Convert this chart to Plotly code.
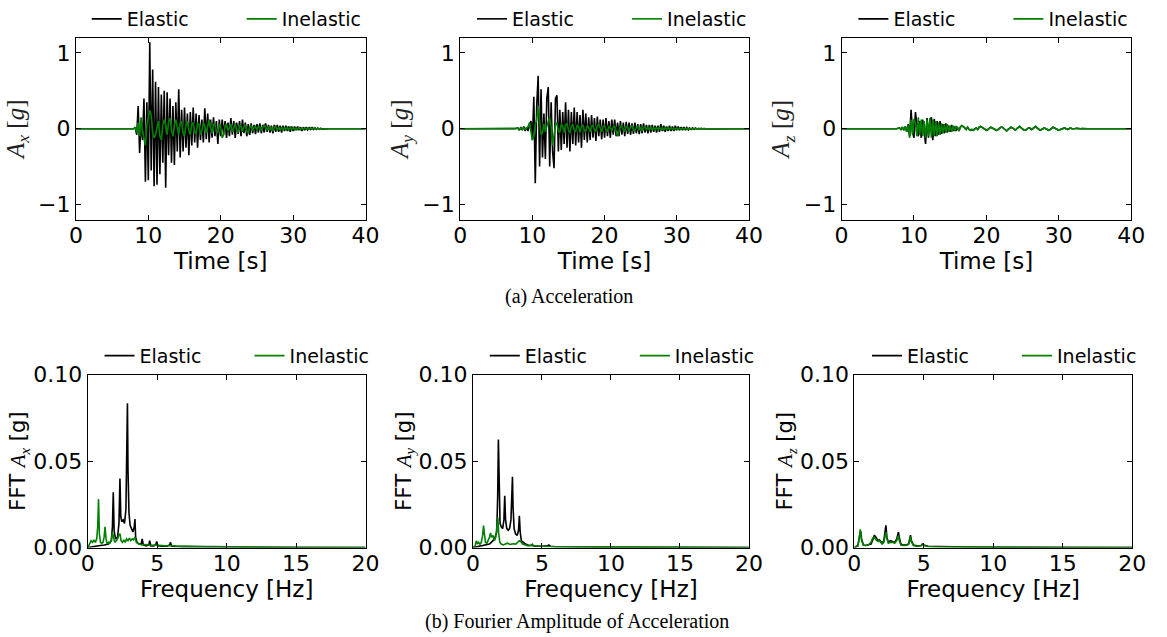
import plotly.graph_objects as go

# ---------------- time histories (time in s, acceleration in g) ----------------
T_S = [0.0, 7.6,
       8.0, 8.2, 8.4, 8.6, 8.8, 9.0, 9.2, 9.4, 9.6, 9.8,
       10.0, 10.2, 10.4, 10.6, 10.8, 11.0, 11.2, 11.4, 11.6, 11.8,
       12.0, 12.2, 12.4, 12.6, 12.8, 13.0, 13.2, 13.4, 13.6, 13.8,
       14.0, 14.2, 14.4, 14.6, 14.8, 15.0, 15.2, 15.4, 15.6, 15.8,
       16.0, 16.2, 16.4, 16.6, 16.8, 17.0, 17.2, 17.4, 17.6, 17.8,
       18.0, 18.2, 18.4, 18.6, 18.8, 19.0, 19.2, 19.4, 19.6, 19.8,
       20.0, 20.2, 20.4, 20.6, 20.8, 21.0, 21.2, 21.4, 21.6, 21.8,
       22.0, 22.2, 22.4, 22.6, 22.8, 23.0, 23.2, 23.4, 23.6, 23.8,
       24.0, 24.2, 24.4, 24.6, 24.8, 25.0, 25.2, 25.4, 25.6, 25.8,
       26.0, 26.2, 26.4, 26.6, 26.8, 27.0, 27.2, 27.4, 27.6, 27.8,
       28.0, 28.2, 28.4, 28.6, 28.8, 29.0, 29.2, 29.4, 29.6, 29.8,
       30.0, 30.2, 30.4, 30.6, 30.8, 31.0, 31.2, 31.4, 31.6, 31.8,
       32.0, 32.2, 32.4, 32.6, 32.8, 33.0, 33.2, 33.4, 33.6, 33.8,
       34.0, 35.0, 40.0]

AX_ELASTIC = [0.0, 0.0,
    0.0, 0.02, -0.08, 0.30, -0.32, 0.10, -0.15, 0.40, -0.70, 0.35,
    -0.68, 1.14, -0.55, 0.78, -0.76, 0.62, -0.74, 0.55, -0.60, 0.45,
    -0.45, 0.50, -0.78, 0.48, -0.35, 0.40, -0.45, 0.30, -0.48, 0.35,
    -0.30, 0.52, -0.38, 0.25, -0.30, 0.28, -0.25, 0.20, -0.35, 0.22,
    -0.22, 0.28, -0.18, 0.20, -0.25, 0.18, -0.15, 0.12, -0.18, 0.27,
    -0.14, 0.20, -0.18, 0.12, -0.12, 0.15, -0.10, 0.10, -0.20, 0.12,
    -0.10, 0.12, -0.08, 0.10, -0.12, 0.08, -0.10, 0.14, -0.08, 0.10,
    -0.12, 0.08, -0.07, 0.10, -0.10, 0.12, -0.06, 0.08, -0.10, 0.06,
    -0.08, 0.07, -0.06, 0.05, -0.07, 0.06, -0.05, 0.07, -0.06, 0.05,
    -0.05, 0.07, -0.04, 0.05, -0.05, 0.04, -0.06, 0.05, -0.04, 0.05,
    -0.04, 0.04, -0.05, 0.04, -0.03, 0.04, -0.03, 0.03, -0.04, 0.03,
    -0.03, 0.03, -0.02, 0.03, -0.02, 0.02, -0.03, 0.02, -0.02, 0.02,
    -0.015, 0.015, -0.01, 0.015, -0.01, 0.01, -0.01, 0.008, -0.008, 0.005,
    -0.005, 0.0, 0.0]

AX_INELASTIC = [0.0, 0.0,
    0.0, 0.02, -0.05, 0.08, -0.10, 0.15, -0.05, -0.12, -0.22, 0.05,
    0.15, 0.24, 0.18, -0.05, -0.12, -0.08, 0.02, 0.10, -0.10, -0.15,
    0.05, 0.12, 0.05, -0.08, 0.10, 0.14, -0.02, -0.10, 0.05, 0.12,
    0.02, -0.08, 0.08, 0.10, -0.06, -0.10, 0.05, 0.10, -0.02, -0.08,
    0.06, 0.08, -0.05, -0.06, 0.07, 0.06, -0.08, -0.02, 0.08, 0.04,
    -0.06, 0.03, 0.12, 0.02, -0.06, 0.05, 0.07, -0.04, -0.05, 0.06,
    0.02, -0.12, -0.08, 0.04, 0.06, -0.03, 0.02, 0.06, -0.04, 0.02,
    0.07, -0.02, -0.05, 0.04, 0.03, -0.04, 0.03, 0.05, -0.03, -0.06,
    0.02, 0.04, -0.03, 0.02, 0.03, -0.02, 0.03, 0.02, -0.03, 0.02,
    0.05, 0.02, -0.02, 0.03, -0.02, 0.02, -0.03, 0.02, 0.03, -0.02,
    0.02, -0.02, 0.02, -0.02, 0.02, -0.02, 0.015, -0.015, 0.02, -0.01,
    0.01, -0.015, 0.01, -0.01, 0.015, -0.01, 0.01, -0.01, 0.01, -0.005,
    0.008, -0.005, 0.01, -0.005, 0.005, 0.012, -0.005, 0.005, -0.004, 0.004,
    -0.003, 0.0, 0.0]

AY_ELASTIC = [0.0, 0.0,
    0.01, -0.02, 0.02, -0.02, 0.03, -0.03, 0.02, -0.03, 0.05, 0.10,
    -0.15, 0.42, -0.72, 0.30, 0.70, -0.50, 0.52, -0.38, 0.20, -0.40,
    0.40, 0.55, -0.50, 0.35, -0.30, -0.52, 0.40, 0.44, -0.30, 0.25,
    -0.28, 0.22, -0.20, 0.35, -0.25, 0.25, -0.30, 0.22, -0.20, 0.28,
    -0.22, 0.22, -0.18, 0.18, -0.25, 0.25, -0.15, 0.20, -0.18, 0.15,
    -0.15, 0.18, -0.12, 0.14, -0.16, 0.16, -0.10, 0.12, -0.14, 0.12,
    -0.12, 0.14, -0.10, 0.10, -0.12, 0.12, -0.08, 0.12, -0.10, 0.08,
    -0.10, 0.10, -0.08, 0.08, -0.10, 0.09, -0.07, 0.08, -0.08, 0.07,
    -0.07, 0.08, -0.06, 0.06, -0.07, 0.06, -0.06, 0.07, -0.05, 0.05,
    -0.06, 0.05, -0.05, 0.05, -0.04, 0.04, -0.05, 0.04, -0.04, 0.06,
    -0.03, 0.04, -0.04, 0.03, -0.03, 0.04, -0.03, 0.03, -0.03, 0.04,
    -0.02, 0.03, -0.02, 0.02, -0.02, 0.02, -0.02, 0.015, -0.015, 0.01,
    -0.01, 0.01, -0.008, 0.008, -0.006, 0.005, -0.005, 0.004, -0.003, 0.003,
    -0.002, 0.0, 0.0]

AY_INELASTIC = [0.0, 0.0,
    0.005, -0.01, 0.01, -0.01, 0.01, -0.01, 0.01, 0.03, 0.08, -0.05,
    -0.15, -0.10, 0.05, 0.12, 0.30, 0.10, -0.08, -0.05, 0.06, -0.04,
    0.04, 0.10, 0.15, 0.02, -0.22, -0.10, 0.05, 0.08, -0.03, -0.05,
    0.06, 0.03, -0.05, 0.05, 0.07, -0.02, -0.06, 0.03, 0.06, -0.02,
    -0.04, 0.05, 0.02, -0.05, 0.03, 0.05, -0.03, -0.03, 0.04, 0.02,
    -0.04, 0.03, 0.05, -0.02, -0.03, 0.04, 0.06, 0.01, -0.04, 0.03,
    0.04, -0.02, -0.03, 0.03, 0.02, -0.03, 0.02, 0.04, -0.02, -0.10,
    -0.04, 0.03, 0.04, -0.02, -0.03, 0.03, 0.02, -0.03, 0.03, 0.04,
    -0.02, -0.03, 0.02, 0.03, -0.02, 0.02, -0.03, 0.02, 0.03, -0.02,
    0.02, -0.02, 0.03, -0.02, 0.02, -0.02, 0.02, -0.015, 0.02, -0.02,
    0.015, -0.015, 0.015, -0.01, 0.015, -0.01, 0.01, -0.01, 0.01, -0.01,
    0.01, -0.008, 0.008, -0.006, 0.006, -0.005, 0.005, -0.004, 0.004, -0.003,
    0.003, -0.003, 0.002, -0.002, 0.002, -0.002, 0.001, -0.001, 0.001, -0.001,
    0.0, 0.0, 0.0]

AZ_ELASTIC = [0.0, 0.0,
    0.01, -0.01, 0.02, -0.02, 0.03, -0.04, 0.06, -0.10, 0.25, -0.05,
    -0.12, 0.22, 0.05, -0.10, 0.10, -0.12, 0.12, -0.08, -0.20, 0.14,
    -0.12, 0.12, 0.15, -0.15, 0.13, -0.10, 0.10, -0.08, 0.10, -0.07,
    0.06, -0.06, 0.07, -0.05, 0.04, -0.04, 0.05, -0.03, 0.03, -0.03,
    0.02, -0.03, 0.02, 0.04, 0.03, 0.01, -0.01, 0.02, -0.01, -0.02,
    -0.01, -0.02, 0.0, 0.01, -0.01, 0.02, 0.03, 0.02, 0.0, -0.01,
    -0.02, -0.01, 0.01, 0.02, 0.01, 0.0, -0.01, -0.02, -0.01, 0.01,
    0.02, 0.02, 0.0, -0.02, -0.03, -0.01, 0.01, 0.02, 0.01, -0.01,
    -0.02, 0.0, 0.02, 0.03, 0.01, -0.01, -0.02, -0.02, 0.0, 0.01,
    0.01, -0.01, 0.0, 0.02, 0.03, 0.01, -0.01, -0.02, -0.01, 0.0,
    0.01, 0.0, -0.01, -0.02, -0.01, 0.01, 0.02, 0.01, 0.0, -0.01,
    -0.02, -0.01, 0.0, 0.01, 0.01, 0.0, -0.01, 0.0, 0.01, 0.0,
    -0.005, 0.0, 0.005, 0.0, -0.005, 0.0, 0.003, 0.0, -0.003, 0.0,
    0.0, 0.0, 0.0]

AZ_INELASTIC = [0.0, 0.0,
    0.01, -0.01, 0.02, -0.02, 0.03, -0.04, 0.05, -0.12, 0.12, -0.08,
    0.13, 0.08, -0.10, 0.15, -0.08, 0.12, -0.10, 0.10, -0.12, 0.12,
    -0.10, 0.14, -0.12, 0.12, -0.10, 0.10, -0.10, 0.08, -0.08, 0.07,
    -0.06, 0.06, -0.05, 0.06, -0.04, 0.04, -0.04, 0.04, -0.03, 0.03,
    0.02, -0.03, 0.02, 0.04, 0.03, 0.01, -0.01, 0.02, -0.01, -0.02,
    -0.01, -0.02, 0.0, 0.01, -0.01, 0.02, 0.03, 0.02, 0.0, -0.01,
    -0.02, -0.01, 0.01, 0.02, 0.01, 0.0, -0.01, -0.02, -0.01, 0.01,
    0.02, 0.02, 0.0, -0.02, -0.03, -0.01, 0.01, 0.02, 0.01, -0.01,
    -0.02, 0.0, 0.02, 0.03, 0.01, -0.01, -0.02, -0.02, 0.0, 0.01,
    0.01, -0.01, 0.0, 0.02, 0.03, 0.01, -0.01, -0.02, -0.01, 0.0,
    0.01, 0.0, -0.01, -0.02, -0.01, 0.01, 0.02, 0.01, 0.0, -0.01,
    -0.02, -0.01, 0.0, 0.01, 0.01, 0.0, -0.01, 0.0, 0.01, 0.0,
    -0.005, 0.0, 0.005, 0.0, -0.005, 0.0, 0.003, 0.0, -0.003, 0.0,
    0.0, 0.0, 0.0]

# ---------------- Fourier amplitudes (frequency in Hz, amplitude in g) ----------------
FX_EL_HZ = [0.0, 0.3, 0.6, 0.9, 1.2, 1.5, 1.7, 1.78, 1.84, 1.9, 2.0, 2.15, 2.25, 2.32, 2.38,
            2.45, 2.55, 2.65, 2.75, 2.82, 2.86, 2.9, 2.97, 3.05, 3.15, 3.25, 3.35, 3.4, 3.45,
            3.55, 3.7, 3.85, 3.92, 4.0, 4.2, 4.4, 4.46, 4.55, 4.75, 4.9, 4.96, 5.05, 5.3, 5.7,
            5.9, 5.95, 6.05, 6.4, 7.0, 8.0, 9.0, 10.0, 12.0, 15.0, 20.0]
FX_EL = [0.0, 0.0005, 0.001, 0.0012, 0.0015, 0.002, 0.004, 0.012, 0.032, 0.010, 0.005, 0.006,
         0.014, 0.040, 0.018, 0.015, 0.016, 0.014, 0.022, 0.050, 0.0835, 0.045, 0.020, 0.013,
         0.011, 0.009, 0.012, 0.0165, 0.006, 0.003, 0.002, 0.002, 0.005, 0.0015, 0.001, 0.0015,
         0.004, 0.001, 0.001, 0.0015, 0.0035, 0.001, 0.0008, 0.0008, 0.0015, 0.003, 0.0008,
         0.0005, 0.0004, 0.0003, 0.0003, 0.0002, 0.0001, 0.0, 0.0]

FX_IN_HZ = [0.0, 0.15, 0.25, 0.35, 0.45, 0.55, 0.65, 0.72, 0.78, 0.84, 0.92, 1.0, 1.1, 1.18,
            1.25, 1.32, 1.4, 1.5, 1.6, 1.7, 1.78, 1.85, 1.95, 2.05, 2.15, 2.25, 2.32, 2.4, 2.5,
            2.6, 2.7, 2.8, 2.9, 3.0, 3.1, 3.2, 3.3, 3.4, 3.5, 3.7, 3.9, 4.2, 4.5, 4.8, 5.2, 5.6,
            6.0, 6.5, 7.0, 7.5, 8.0, 8.5, 9.0, 10.0, 11.0, 12.0, 13.0, 15.0, 20.0]
FX_IN = [0.0, 0.002, 0.004, 0.003, 0.0045, 0.003, 0.005, 0.012, 0.028, 0.008, 0.003, 0.0025,
         0.003, 0.006, 0.012, 0.005, 0.002, 0.003, 0.0025, 0.004, 0.009, 0.006, 0.003, 0.004,
         0.005, 0.0075, 0.008, 0.004, 0.003, 0.0045, 0.003, 0.005, 0.004, 0.0055, 0.004, 0.005,
         0.0045, 0.006, 0.003, 0.002, 0.0015, 0.0018, 0.0012, 0.0015, 0.0012, 0.001, 0.0012,
         0.0008, 0.0009, 0.0007, 0.0008, 0.0006, 0.0006, 0.0005, 0.0004, 0.0003, 0.0001, 0.0, 0.0]

FY_EL_HZ = [0.0, 0.3, 0.6, 0.9, 1.2, 1.45, 1.6, 1.72, 1.79, 1.84, 1.89, 1.96, 2.05, 2.15, 2.24,
            2.3, 2.36, 2.45, 2.55, 2.65, 2.75, 2.82, 2.86, 2.9, 2.98, 3.08, 3.2, 3.3, 3.36, 3.42,
            3.5, 3.65, 3.8, 4.0, 4.3, 4.6, 5.0, 5.4, 5.5, 5.6, 6.0, 7.0, 8.0, 10.0, 12.0, 15.0, 20.0]
FY_EL = [0.0, 0.0005, 0.001, 0.0012, 0.002, 0.004, 0.006, 0.009, 0.03, 0.0625, 0.03, 0.014,
         0.012, 0.011, 0.016, 0.030, 0.016, 0.011, 0.010, 0.011, 0.016, 0.030, 0.041, 0.024,
         0.011, 0.008, 0.007, 0.010, 0.0184, 0.009, 0.004, 0.003, 0.002, 0.0015, 0.001, 0.0008,
         0.0008, 0.001, 0.0015, 0.0008, 0.0005, 0.0003, 0.0002, 0.0001, 0.0001, 0.0, 0.0]

FY_IN_HZ = [0.0, 0.15, 0.25, 0.32, 0.4, 0.5, 0.6, 0.7, 0.76, 0.82, 0.9, 1.0, 1.1, 1.2, 1.27,
            1.35, 1.45, 1.55, 1.65, 1.75, 1.8, 1.86, 1.95, 2.05, 2.2, 2.35, 2.5, 2.7, 2.9, 3.1,
            3.25, 3.35, 3.45, 3.6, 3.8, 4.0, 4.2, 4.3, 4.4, 4.6, 5.0, 5.5, 6.0, 7.0, 8.0, 9.0,
            10.0, 11.0, 12.0, 15.0, 20.0]
FY_IN = [0.0, 0.001, 0.004, 0.002, 0.003, 0.002, 0.003, 0.007, 0.0127, 0.006, 0.003, 0.0025,
         0.004, 0.006, 0.0085, 0.006, 0.007, 0.004, 0.006, 0.012, 0.0174, 0.008, 0.003, 0.002,
         0.0015, 0.002, 0.0025, 0.0018, 0.0022, 0.002, 0.003, 0.004, 0.0035, 0.002, 0.0015,
         0.001, 0.0012, 0.002, 0.001, 0.0008, 0.0008, 0.0006, 0.0007, 0.0005, 0.0004, 0.0004,
         0.0003, 0.0002, 0.0001, 0.0, 0.0]

FZ_EL_HZ = [0.0, 0.25, 0.38, 0.45, 0.52, 0.65, 0.8, 1.0, 1.2, 1.35, 1.44, 1.55, 1.7, 1.8, 1.9,
            2.0, 2.12, 2.2, 2.27, 2.34, 2.45, 2.6, 2.75, 2.9, 3.05, 3.12, 3.17, 3.23, 3.35, 3.5,
            3.7, 3.9, 4.0, 4.04, 4.1, 4.25, 4.5, 4.8, 4.9, 5.0, 5.3, 5.7, 6.0, 7.0, 8.0, 10.0,
            12.0, 15.0, 20.0]
FZ_EL = [0.0, 0.001, 0.007, 0.0095, 0.005, 0.0015, 0.0012, 0.0015, 0.002, 0.005, 0.0072, 0.006,
         0.004, 0.0045, 0.0035, 0.0025, 0.004, 0.008, 0.0128, 0.006, 0.003, 0.004, 0.0035, 0.003,
         0.005, 0.008, 0.009, 0.006, 0.002, 0.0015, 0.0015, 0.002, 0.005, 0.0072, 0.004, 0.0015,
         0.001, 0.0012, 0.002, 0.0015, 0.0008, 0.0007, 0.0006, 0.0004, 0.0003, 0.0002, 0.0001,
         0.0, 0.0]

FZ_IN_HZ = [0.0, 0.25, 0.35, 0.42, 0.46, 0.52, 0.65, 0.8, 1.0, 1.2, 1.32, 1.42, 1.55, 1.7, 1.8,
            1.9, 2.0, 2.12, 2.2, 2.27, 2.34, 2.45, 2.6, 2.75, 2.9, 3.05, 3.12, 3.17, 3.23, 3.35,
            3.5, 3.7, 3.9, 4.0, 4.04, 4.1, 4.25, 4.5, 4.8, 4.9, 5.0, 5.3, 5.7, 6.0, 7.0, 8.0,
            10.0, 12.0, 15.0, 20.0]
FZ_IN = [0.0, 0.001, 0.005, 0.0105, 0.008, 0.004, 0.0015, 0.0012, 0.0015, 0.003, 0.0055, 0.006,
         0.0045, 0.0035, 0.004, 0.003, 0.002, 0.003, 0.006, 0.009, 0.005, 0.0025, 0.003, 0.003,
         0.0025, 0.004, 0.006, 0.007, 0.004, 0.0015, 0.0012, 0.0012, 0.0018, 0.004, 0.0065,
         0.0035, 0.0012, 0.0008, 0.001, 0.0018, 0.0012, 0.0006, 0.0005, 0.0005, 0.0003, 0.0002,
         0.0001, 0.0001, 0.0, 0.0]

SERIES_NAMES = ["Elastic", "Inelastic"]
TIME_TICKS = [0, 10, 20, 30, 40]
ACC_TICKS = [-1, 0, 1]
FREQ_TICKS = [0, 5, 10, 15, 20]
FFT_TICKS = [0.0, 0.05, 0.10]

# ---------------- styling ----------------
BLACK = "#000000"
GREEN = "#008000"
SANS = "DejaVu Sans"
SERIF = "Liberation Serif, Times New Roman, serif"
W, H = 1167, 637

top_x_dom = [(77, 371), (467, 760), (854, 1148)]
bot_x_dom = [(89, 371), (480, 760), (867, 1149)]
top_y_px = (34, 217)
bot_y_px = (373, 547)


def px_dom(a, b):
    return [a / W, b / W]


def py_dom(top, bottom):
    return [1 - bottom / H, 1 - top / H]


fig = go.Figure()

panels = [
    (AX_ELASTIC, AX_INELASTIC, T_S, T_S),
    (AY_ELASTIC, AY_INELASTIC, T_S, T_S),
    (AZ_ELASTIC, AZ_INELASTIC, T_S, T_S),
    (FX_EL, FX_IN, FX_EL_HZ, FX_IN_HZ),
    (FY_EL, FY_IN, FY_EL_HZ, FY_IN_HZ),
    (FZ_EL, FZ_IN, FZ_EL_HZ, FZ_IN_HZ),
]

for i, (yel, yin, xel, xin) in enumerate(panels):
    k = i + 1
    xa = "x" if k == 1 else f"x{k}"
    ya = "y" if k == 1 else f"y{k}"
    lg = "legend" if k == 1 else f"legend{k}"
    fig.add_trace(go.Scatter(x=xel, y=yel, mode="lines", name=SERIES_NAMES[0],
                             line=dict(color=BLACK, width=1.6), xaxis=xa, yaxis=ya,
                             legend=lg, showlegend=True))
    fig.add_trace(go.Scatter(x=xin, y=yin, mode="lines", name=SERIES_NAMES[1],
                             line=dict(color=GREEN, width=1.6), xaxis=xa, yaxis=ya,
                             legend=lg, showlegend=True))

axis_common = dict(showline=True, linecolor="black", linewidth=1, mirror="ticks",
                   ticks="inside", ticklen=5, tickwidth=1, tickcolor="black",
                   showgrid=False, zeroline=False, automargin=False,
                   tickfont=dict(family=SANS, size=22, color="black"))

layout = dict(width=W, height=H, autosize=False,
              margin=dict(l=0, r=0, t=0, b=0),
              paper_bgcolor="white", plot_bgcolor="white",
              font=dict(family=SANS, color="black"))

comp = ["x", "y", "z"]
for c in range(3):
    # top row: acceleration
    k = c + 1
    xs = "xaxis" if k == 1 else f"xaxis{k}"
    ys = "yaxis" if k == 1 else f"yaxis{k}"
    layout[xs] = dict(axis_common, domain=px_dom(*top_x_dom[c]), anchor="y" if k == 1 else f"y{k}",
                      range=[0, 40], tickvals=TIME_TICKS, ticklabelstandoff=-4,
                      title=dict(text="Time [s]", font=dict(family=SANS, size=23, color="black"),
                                 standoff=0))
    layout[ys] = dict(axis_common, domain=py_dom(*top_y_px), anchor="x" if k == 1 else f"x{k}",
                      range=[-1.2, 1.2], tickvals=ACC_TICKS,
                      title=dict(text=f"<i>A<sub>{comp[c]}</sub></i> [<i>g</i>]",
                                 font=dict(family=SERIF, size=25, color="#222"),
                                 standoff=6))
    # bottom row: FFT
    k = c + 4
    xs = f"xaxis{k}"
    ys = f"yaxis{k}"
    layout[xs] = dict(axis_common, domain=px_dom(*bot_x_dom[c]), anchor=f"y{k}",
                      range=[0, 20], tickvals=FREQ_TICKS, ticklabelstandoff=-4,
                      title=dict(text="Frequency [Hz]", font=dict(family=SANS, size=23, color="black"),
                                 standoff=0))
    layout[ys] = dict(axis_common, domain=py_dom(*bot_y_px), anchor=f"x{k}",
                      range=[0, 0.1], tickvals=FFT_TICKS, tickformat=".2f",
                      title=dict(text=f"FFT <span style='font-family:Liberation Serif'><i>A<sub>{comp[c]}</sub></i></span> [g]",
                                 font=dict(family=SANS, size=21, color="black"),
                                 standoff=1))

leg_top_px = [85, 476, 863]
leg_bot_px = [98, 489, 877]
for c in range(3):
    for row, xs_px, ypx, ew in ((0, leg_top_px, 15, 110), (1, leg_bot_px, 354, 105)):
        k = c + 1 + 3 * row
        name = "legend" if k == 1 else f"legend{k}"
        layout[name] = dict(orientation="h", x=(xs_px[c] + 3) / W, y=1 - ypx / H,
                            xanchor="left", yanchor="middle",
                            bgcolor="rgba(0,0,0,0)", borderwidth=0,
                            entrywidth=ew, entrywidthmode="pixels",
                            font=dict(family=SANS, size=19, color="black"))

layout["annotations"] = [
    dict(text="(a) Acceleration", x=577 / W, y=1 - 294 / H, xref="paper", yref="paper",
         showarrow=False, xanchor="center", yanchor="middle",
         font=dict(family=SERIF, size=20, color="black")),
    dict(text="(b) Fourier Amplitude of Acceleration", x=586 / W, y=1 - 621 / H,
         xref="paper", yref="paper", showarrow=False, xanchor="center", yanchor="middle",
         font=dict(family=SERIF, size=20, color="black")),
]

fig.update_layout(**layout)
fig.write_html("out.html", config={"displayModeBar": False},
               post_script="document.body.style.margin='0';document.body.style.overflow='hidden';")
